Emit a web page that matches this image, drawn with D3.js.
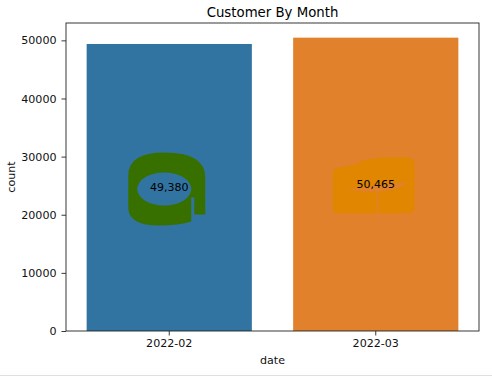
<!DOCTYPE html>
<html><head><meta charset="utf-8">
<script src="https://cdn.jsdelivr.net/npm/d3@7"></script>
<style>body{margin:0;background:#fff}svg{display:block}text{font-family:"DejaVu Sans",sans-serif}</style>
</head><body>
<script>
const categories = ["2022-02", "2022-03"];
const values = [49380, 50465];
const yTicks = [0, 10000, 20000, 30000, 40000, 50000];
const barColors = ["#3274a1", "#e1812c"];
const blobColors = ["#387000", "#e08600"];
const title = "Customer By Month";

const W = 492, H = 378;
const m = {left: 66, right: 13, top: 23, bottom: 47};
const svg = d3.select("body").append("svg").attr("width", W).attr("height", H);

const x = d3.scaleBand().domain(categories).range([m.left, W - m.right]).paddingInner(0.2).paddingOuter(0.1);
const y = d3.scaleLinear().domain([0, d3.max(values) * 1.05]).range([H - m.bottom, m.top]);

// bars
svg.selectAll("rect.bar").data(values).join("rect").attr("class", "bar")
  .attr("x", (d, i) => x(categories[i])).attr("width", x.bandwidth())
  .attr("y", d => y(d)).attr("height", d => y(0) - y(d))
  .attr("fill", (d, i) => barColors[i]);

// decorative blobs behind labels (shapes relative to each label centre)
const g0 = svg.append("g").attr("transform", `translate(${x(categories[0]) + x.bandwidth()/2},${y(values[0]/2)})`);
g0.append("path").attr("fill", blobColors[0]).attr("fill-rule", "evenodd")
  .attr("d", "M-41,-12 Q-41,-35 -5,-35 Q36,-35 36,-10 L36,27 L25,27 L25,10 L22,10 L22,34 Q10,38 -10,38 Q-41,38 -41,20 Z " +
             "M-32,1.5 A27 16.5 0 1 0 22,1.5 A27 16.5 0 1 0 -32,1.5 Z");
const g1 = svg.append("g").attr("transform", `translate(${x(categories[1]) + x.bandwidth()/2},${y(values[1]/2)})`);
g1.append("path").attr("fill", blobColors[1]).attr("fill-rule", "evenodd")
  .attr("d", "M-43,-12 Q-43,-16 -35,-17 Q-20,-19 -15,-23 Q0,-27 15,-27 L30,-27 Q39,-27 39,-20 L39,24 Q39,29 30,29 L2.5,29 L2.5,8 L1,8 L1,29 L-38,29 Q-43,29 -43,24 Z " +
             "M-28,5 Q0,1 32,-2 Q15,12 -28,5 Z");

// value labels
svg.selectAll("text.lbl").data(values).join("text").attr("class", "lbl")
  .attr("x", (d, i) => x(categories[i]) + x.bandwidth()/2).attr("y", d => y(d/2))
  .attr("dy", "0.35em").attr("text-anchor", "middle").attr("font-size", 11).attr("fill", "#000")
  .text(d => d3.format(",")(d));

// axes
const yAxis = svg.append("g").attr("transform", `translate(${m.left},0)`)
  .call(d3.axisLeft(y).tickValues(yTicks).tickFormat(d3.format("d")).tickSize(4.5).tickPadding(5));
const xAxis = svg.append("g").attr("transform", `translate(0,${H - m.bottom})`)
  .call(d3.axisBottom(x).tickSize(4.5).tickPadding(4));
[yAxis, xAxis].forEach(a => {
  a.select(".domain").remove();
  a.selectAll("text").attr("font-size", 11.1).attr("fill", "#111").attr("font-family", "DejaVu Sans");
  a.selectAll("line").attr("stroke", "#222").attr("stroke-width", 0.9);
});

// frame
svg.append("rect").attr("x", m.left).attr("y", m.top)
  .attr("width", W - m.right - m.left).attr("height", H - m.bottom - m.top)
  .attr("fill", "none").attr("stroke", "#222").attr("stroke-width", 0.9);

// titles
svg.append("text").attr("x", (m.left + W - m.right)/2).attr("y", 16.5).attr("text-anchor", "middle")
  .attr("font-size", 13.3).attr("fill", "#000").text(title);
svg.append("text").attr("x", (m.left + W - m.right)/2).attr("y", 364).attr("text-anchor", "middle")
  .attr("font-size", 11.1).attr("fill", "#111").text("date");
svg.append("text").attr("transform", `translate(14.5,${(m.top + H - m.bottom)/2}) rotate(-90)`)
  .attr("text-anchor", "middle").attr("font-size", 11.1).attr("fill", "#111").text("count");

// notebook output border
svg.append("line").attr("x1", 0).attr("x2", W).attr("y1", 375.5).attr("y2", 375.5)
  .attr("stroke", "#e0e0e0").attr("stroke-width", 1);
</script>
</body></html>
